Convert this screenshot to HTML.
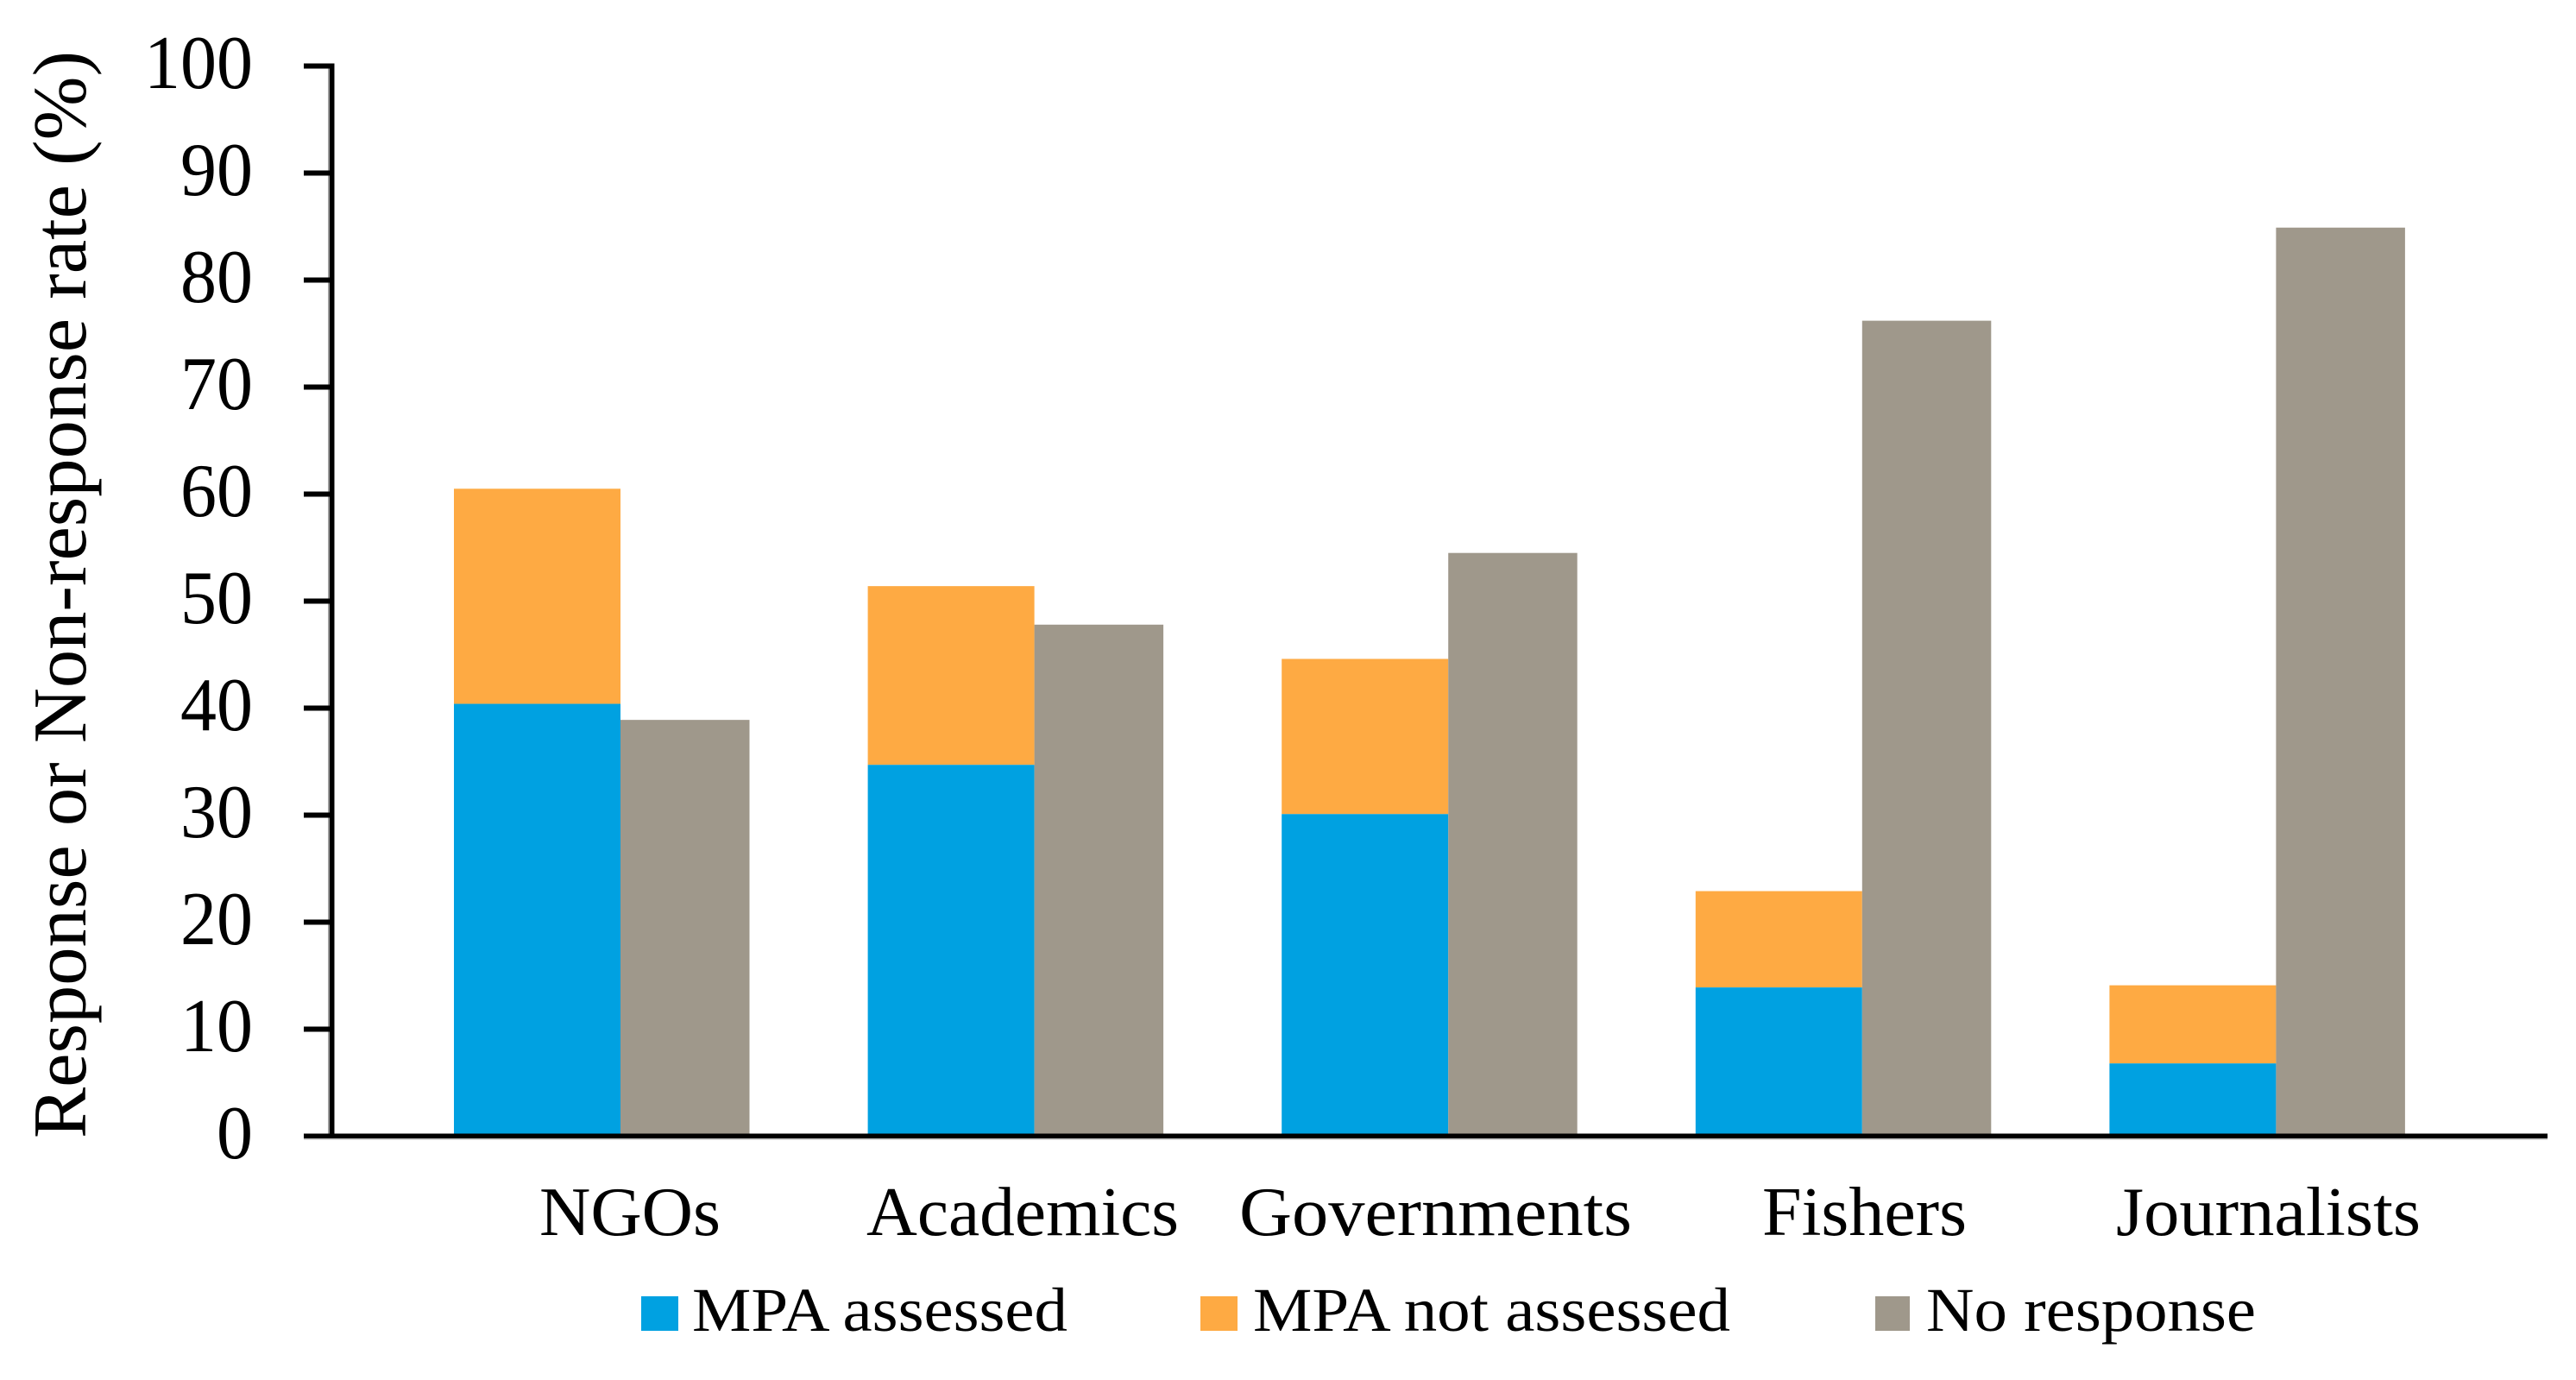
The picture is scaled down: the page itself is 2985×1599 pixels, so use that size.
<!DOCTYPE html>
<html lang="en">
<head>
<meta charset="utf-8">
<title>Response or Non-response rate</title>
<style>
html,body{margin:0;padding:0;background:#fff;width:2985px;height:1599px;overflow:hidden}
svg{display:block}
text{font-family:"Liberation Serif",serif;fill:#000}
</style>
</head>
<body>
<svg id="chart" xmlns="http://www.w3.org/2000/svg" width="2985" height="1599" viewBox="0 0 2985 1599">
  <rect x="0" y="0" width="2985" height="1599" fill="#ffffff"/>
  <g id="bars"></g>
  <g id="y-axis"></g>
  <rect x="352" y="1318.5" width="2600" height="2" fill="#b4b4b4"/>
  <rect x="352" y="1313.5" width="2600" height="5.5" fill="#000"/>
  <text transform="translate(99,1319) rotate(-90)" font-size="88" textLength="1260" lengthAdjust="spacingAndGlyphs">Response or Non-response rate (%)</text>
  <g font-size="80">
    <text x="625" y="1431" textLength="210" lengthAdjust="spacingAndGlyphs">NGOs</text>
    <text x="1004" y="1431" textLength="362" lengthAdjust="spacingAndGlyphs">Academics</text>
    <text x="1436" y="1431" textLength="455" lengthAdjust="spacingAndGlyphs">Governments</text>
    <text x="2042" y="1431" textLength="237" lengthAdjust="spacingAndGlyphs">Fishers</text>
    <text x="2452" y="1431" textLength="353" lengthAdjust="spacingAndGlyphs">Journalists</text>
  </g>
  <g font-size="72">
    <g>
      <rect x="743" y="1502" width="43" height="40" fill="#00A1E1"/>
      <text x="802" y="1542" textLength="435" lengthAdjust="spacingAndGlyphs">MPA assessed</text>
    </g>
    <g>
      <rect x="1391" y="1502" width="43" height="40" fill="#FEAA43"/>
      <text x="1452" y="1542" textLength="553" lengthAdjust="spacingAndGlyphs">MPA not assessed</text>
    </g>
    <g>
      <rect x="2173" y="1502" width="40" height="40" fill="#9F988B"/>
      <text x="2232" y="1542" textLength="382" lengthAdjust="spacingAndGlyphs">No response</text>
    </g>
  </g>
</svg>
<script>
const categories = ["NGOs", "Academics", "Governments", "Fishers", "Journalists"];
const mpaAssessed = [40.4, 34.7, 30.1, 13.9, 6.8];
const mpaNotAssessed = [20.1, 16.7, 14.5, 9.0, 7.3];
const noResponse = [38.9, 47.8, 54.5, 76.2, 84.9];
const yTicks = [0, 10, 20, 30, 40, 50, 60, 70, 80, 90, 100];

const SVG_NS = "http://www.w3.org/2000/svg";
const barsGroup = document.getElementById("bars");
const axisGroup = document.getElementById("y-axis");

function yScale(v) { return 1316.5 - 12.4 * v; }
function xStacked(i) { return 526 + 479.6 * i; }
function xGrey(i) { return xStacked(i) + 193; }

function drawBar(x, width, v0, v1, fill, name) {
  const r = document.createElementNS(SVG_NS, "rect");
  r.setAttribute("x", x);
  r.setAttribute("y", yScale(v1));
  r.setAttribute("width", width);
  r.setAttribute("height", yScale(v0) - yScale(v1));
  r.setAttribute("fill", fill);
  
  
  barsGroup.appendChild(r);
}

categories.forEach(function (cat, i) {
  const slug = cat.toLowerCase();
  const a = mpaAssessed[i];
  const b = mpaNotAssessed[i];
  drawBar(xStacked(i), 193, a, a + b, "#FEAA43", "bar-mpa-not-assessed-" + slug);
  drawBar(xStacked(i), 193, 0, a, "#00A1E1", "bar-mpa-assessed-" + slug);
  drawBar(xGrey(i), 149.5, 0, noResponse[i], "#9F988B", "bar-no-response-" + slug);
});

const axisShadow = document.createElementNS(SVG_NS, "rect");
axisShadow.setAttribute("x", 380);
axisShadow.setAttribute("y", yScale(100) - 3);
axisShadow.setAttribute("width", 2);
axisShadow.setAttribute("height", yScale(0) - yScale(100) + 3);
axisShadow.setAttribute("fill", "#9a9a9a");


axisGroup.appendChild(axisShadow);

const axisLine = document.createElementNS(SVG_NS, "rect");
axisLine.setAttribute("x", 382);
axisLine.setAttribute("y", yScale(100) - 3);
axisLine.setAttribute("width", 5.5);
axisLine.setAttribute("height", yScale(0) - yScale(100) + 3);
axisLine.setAttribute("fill", "#000");


axisGroup.appendChild(axisLine);

yTicks.forEach(function (t) {
  const mark = document.createElementNS(SVG_NS, "rect");
  mark.setAttribute("x", 352);
  mark.setAttribute("y", yScale(t) - 3);
  mark.setAttribute("width", 33);
  mark.setAttribute("height", 6);
  mark.setAttribute("fill", "#000");
  
  
  axisGroup.appendChild(mark);

  const label = document.createElementNS(SVG_NS, "text");
  const str = String(t);
  label.setAttribute("x", 293);
  label.setAttribute("y", yScale(t) + 25.5);
  label.setAttribute("text-anchor", "end");
  label.setAttribute("font-size", "88");
  label.setAttribute("textLength", 42 * str.length);
  label.setAttribute("lengthAdjust", "spacingAndGlyphs");
  
  
  label.textContent = str;
  axisGroup.appendChild(label);
});
</script>
</body>
</html>
